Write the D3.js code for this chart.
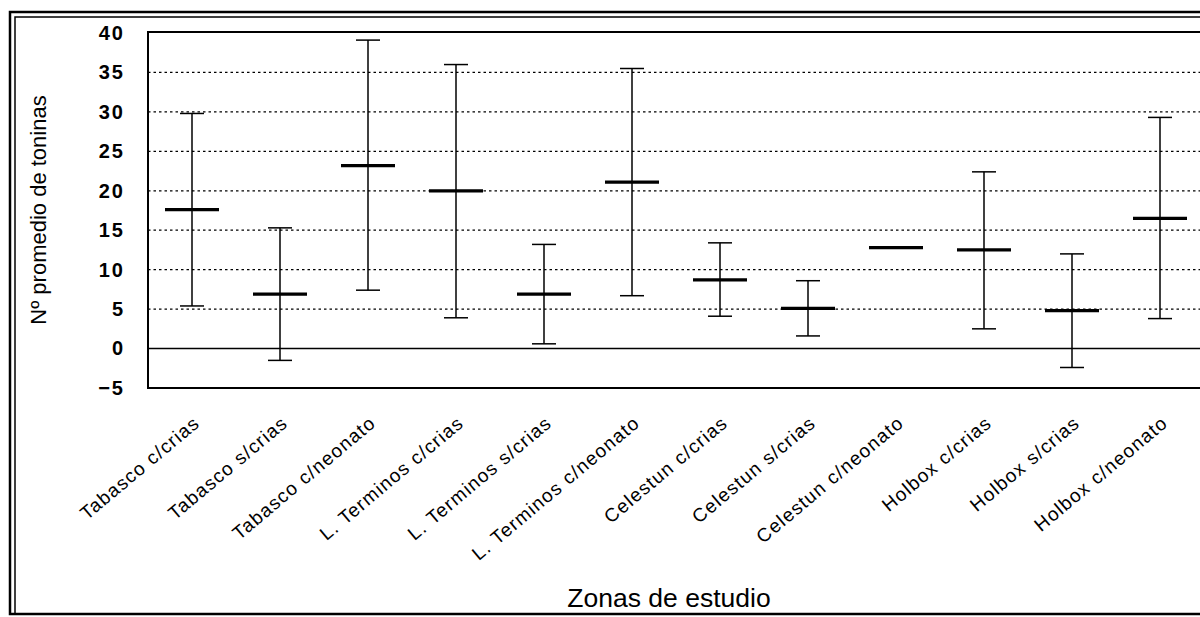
<!DOCTYPE html>
<html>
<head>
<meta charset="utf-8">
<script src="https://cdn.jsdelivr.net/npm/d3@7.9.0/dist/d3.min.js"></script>
<style>
  body { margin: 0; background: #fff; }
  svg { display: block; font-family: "Liberation Sans", Arial, sans-serif; }
</style>
</head>
<body>
<svg id="chart" width="1200" height="617"></svg>
<script>
const zonas = [
  "Tabasco c/crias", "Tabasco s/crias", "Tabasco c/neonato",
  "L. Terminos c/crias", "L. Terminos s/crias", "L. Terminos c/neonato",
  "Celestun c/crias", "Celestun s/crias", "Celestun c/neonato",
  "Holbox c/crias", "Holbox s/crias", "Holbox c/neonato"
];
const promedio = [17.6, 6.9, 23.2, 20.0, 6.9, 21.1, 8.7, 5.1, 12.8, 12.5, 4.8, 16.5];
const superior = [29.8, 15.3, 39.1, 36.0, 13.2, 35.5, 13.4, 8.6, null, 22.4, 12.0, 29.3];
const inferior = [5.4, -1.5, 7.4, 3.9, 0.6, 6.7, 4.1, 1.6, null, 2.5, -2.4, 3.8];
const yTicks = [-5, 0, 5, 10, 15, 20, 25, 30, 35, 40];
const gridTicks = [5, 10, 15, 20, 25, 30, 35];

const svg = d3.select("#chart");
const plotLeft = 148, plotTop = 32, plotBottom = 388;
const bandW = 88;
const plotRight = plotLeft + bandW * zonas.length;

const x = d3.scaleBand().domain(zonas).range([plotLeft, plotRight]);
const y = d3.scaleLinear().domain([-5, 40]).range([plotBottom, plotTop + 1]);

// outer double frame
svg.append("rect").attr("x", 10).attr("y", 12).attr("width", 1230).attr("height", 602)
  .attr("fill", "none").attr("stroke", "#000").attr("stroke-width", 2.5);
svg.append("rect").attr("x", 15).attr("y", 17).attr("width", 1220).attr("height", 597)
  .attr("fill", "none").attr("stroke", "#000").attr("stroke-width", 1.5);

// dotted grid
svg.append("g").selectAll("line").data(gridTicks).join("line")
  .attr("x1", plotLeft).attr("x2", plotRight)
  .attr("y1", d => y(d)).attr("y2", d => y(d))
  .attr("stroke", "#000").attr("stroke-width", 1.2)
  .attr("stroke-dasharray", "2.5,3");

// zero line
svg.append("line").attr("x1", plotLeft).attr("x2", plotRight)
  .attr("y1", y(0)).attr("y2", y(0))
  .attr("stroke", "#000").attr("stroke-width", 1.5);

// plot box
svg.append("rect").attr("x", plotLeft).attr("y", plotTop)
  .attr("width", plotRight - plotLeft).attr("height", plotBottom - plotTop)
  .attr("fill", "none").attr("stroke", "#000").attr("stroke-width", 2);

// y axis labels
const yAxis = d3.axisLeft(y).tickValues(yTicks).tickSize(0).tickPadding(23);
svg.append("g").attr("transform", `translate(${plotLeft},0)`).call(yAxis)
  .call(g => g.select(".domain").remove())
  .call(g => g.selectAll("text")
    .attr("font-size", 20).attr("font-weight", "bold")
    .attr("font-family", "'Liberation Sans', Arial, sans-serif")
    .attr("letter-spacing", 2).attr("fill", "#000"));

// x axis labels
const xAxis = d3.axisBottom(x).tickSize(0).tickPadding(0);
svg.append("g").attr("transform", `translate(0,${plotBottom})`).call(xAxis)
  .call(g => g.select(".domain").remove())
  .call(g => g.selectAll("text")
    .attr("font-size", 19)
    .attr("font-family", "'Liberation Sans', Arial, sans-serif")
    .attr("letter-spacing", 1.2)
    .attr("fill", "#000")
    .attr("text-anchor", "end")
    .attr("dy", 0)
    .attr("transform", "translate(9,37) rotate(-40)"));

// error bars
const g = svg.append("g");
zonas.forEach((z, i) => {
  const cx = x(z) + x.bandwidth() / 2;
  if (superior[i] != null) {
    g.append("line").attr("x1", cx).attr("x2", cx)
      .attr("y1", y(superior[i])).attr("y2", y(inferior[i]))
      .attr("stroke", "#000").attr("stroke-width", 1.5);
    [superior[i], inferior[i]].forEach(v => {
      g.append("line").attr("x1", cx - 12).attr("x2", cx + 12)
        .attr("y1", y(v)).attr("y2", y(v))
        .attr("stroke", "#000").attr("stroke-width", 1.5);
    });
  }
  g.append("line").attr("x1", cx - 27).attr("x2", cx + 27)
    .attr("y1", y(promedio[i])).attr("y2", y(promedio[i]))
    .attr("stroke", "#000").attr("stroke-width", 3.2);
});

// axis titles
svg.append("text")
  .attr("transform", "translate(46,210) rotate(-90)")
  .attr("text-anchor", "middle").attr("font-size", 22).attr("fill", "#000")
  .text("Nº promedio de toninas");

svg.append("text")
  .attr("x", 669).attr("y", 607)
  .attr("text-anchor", "middle").attr("font-size", 26.5).attr("fill", "#000")
  .text("Zonas de estudio");
</script>
</body>
</html>
